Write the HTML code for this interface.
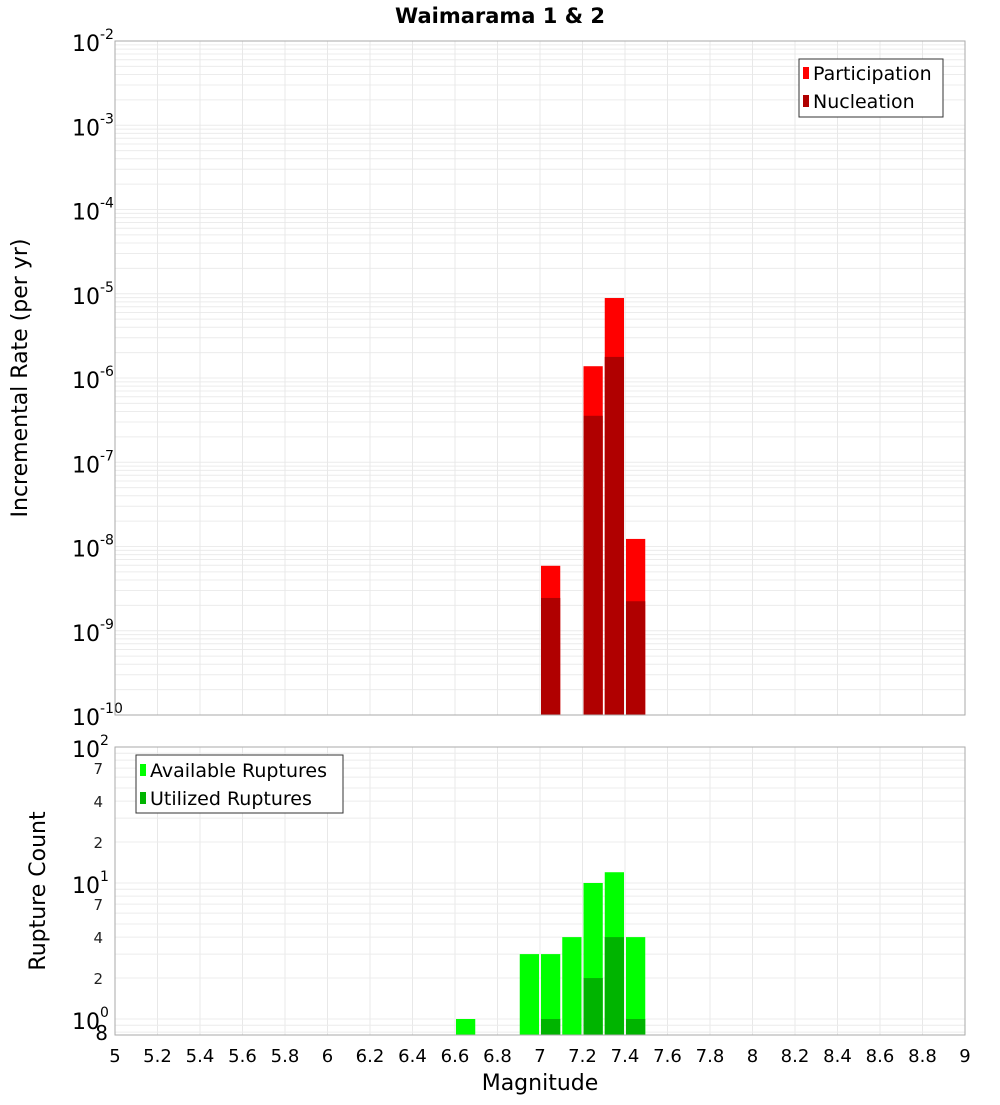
<!DOCTYPE html>
<html><head><meta charset="utf-8"><style>
body{margin:0;background:#fff;font-family:"Liberation Sans","DejaVu Sans",sans-serif}
svg text{font-family:"DejaVu Sans","Liberation Sans",sans-serif}
</style></head><body>
<svg id="c" width="1000" height="1100" xmlns="http://www.w3.org/2000/svg">
<text x="500" y="23" text-anchor="middle" font-size="21" font-weight="bold">Waimarama 1 &amp; 2</text>
<g id="topG"></g><g id="botG"></g>
<text x="540" y="1090" text-anchor="middle" font-size="22">Magnitude</text>
<text transform="translate(27,378) rotate(-90)" text-anchor="middle" font-size="22">Incremental Rate (per yr)</text>
<text transform="translate(45,891) rotate(-90)" text-anchor="middle" font-size="22">Rupture Count</text>
</svg>
<script>
const mags=[7.05,7.25,7.35,7.45];
const participation=[5.9e-9,1.38e-6,8.9e-6,1.23e-8];
const nucleation=[2.45e-9,3.56e-7,1.78e-6,2.24e-9];
const countMags=[6.65,6.95,7.05,7.15,7.25,7.35,7.45];
const available=[1,3,3,4,10,12,4];
const utilized=[0,0,1,0,2,4,1];
const xTicks=[5,5.2,5.4,5.6,5.8,6,6.2,6.4,6.6,6.8,7,7.2,7.4,7.6,7.8,8,8.2,8.4,8.6,8.8,9];
const topExps=[-2,-3,-4,-5,-6,-7,-8,-9,-10];
const botMinor=[2,4,7];

const NS="http://www.w3.org/2000/svg";
const X0=115,X1=965;
const x=m=>X0+(m-5)/4*(X1-X0);
const TT=41,TB=715;
const yT=v=>TT+(-2-Math.log10(v))/8*(TB-TT);
const BT=747,BB=1035,DEC=136;
const yB=v=>BT+(2-Math.log10(v))*DEC;
function el(p,t,a){const e=document.createElementNS(NS,t);for(const k in a)e.setAttribute(k,a[k]);p.appendChild(e);return e;}
const topG=document.getElementById('topG'),botG=document.getElementById('botG');
for(let d=-10;d<-2;d++)for(let k=1;k<10;k++){const y=yT(k*Math.pow(10,d));const l=el(topG,'line',{x1:X0,x2:X1,y1:y,y2:y,stroke:'#ececec','stroke-width':1});

}
for(const t of xTicks){const l=el(topG,'line',{x1:x(t),x2:x(t),y1:TT,y2:TB,stroke:'#e8e8e8'});


const l2=el(botG,'line',{x1:x(t),x2:x(t),y1:BT,y2:BB,stroke:'#e8e8e8'});


const tx=el(botG,'text',{x:x(t),y:1062,'text-anchor':'middle','font-size':18});tx.textContent=String(t);

}
for(const e of topExps){const y=yT(Math.pow(10,e));const t=el(topG,'text',{x:72,y:y+10,'font-size':22});


t.textContent='10';const s=el(t,'tspan',{dy:-12,'font-size':14});s.textContent=String(e);}
mags.forEach((m,i)=>{const xl=x(m-0.05)+1,w=x(m+0.05)-x(m-0.05)-2;
const p=el(topG,'rect',{x:xl,y:yT(participation[i]),width:w,height:TB-yT(participation[i]),fill:'#ff0000'});


const n=el(topG,'rect',{x:xl,y:yT(nucleation[i]),width:w,height:TB-yT(nucleation[i]),fill:'#b00000'});

});
const tf=el(topG,'rect',{x:X0,y:TT,width:X1-X0,height:TB-TT,fill:'none',stroke:'#aaa'});


for(let d=-1;d<2;d++)for(let k=1;k<10;k++){const v=k*Math.pow(10,d);const y=yB(v);if(y>BB||y<BT)continue;
const l=el(botG,'line',{x1:X0,x2:X1,y1:y,y2:y,stroke:'#ececec'});

}
[2,1,0].forEach(e=>{const y=yB(Math.pow(10,e));const t=el(botG,'text',{x:72,y:y+10,'font-size':22});


t.textContent='10';const s=el(t,'tspan',{dy:-12,'font-size':14});s.textContent=String(e);});
[1,10].forEach(b=>botMinor.forEach(k=>{const t=el(botG,'text',{x:103,y:yB(k*b)+6,'text-anchor':'end','font-size':15,fill:'#222'});t.textContent=String(k);

}));
const t8=el(botG,'text',{x:108,y:yB(0.8)+8,'text-anchor':'end','font-size':20});t8.textContent='8';


countMags.forEach((m,i)=>{const xl=x(m-0.05)+1,w=x(m+0.05)-x(m-0.05)-2;
if(available[i]>0){const a=el(botG,'rect',{x:xl,y:yB(available[i]),width:w,height:BB-yB(available[i]),fill:'#00ff00'});

}
if(utilized[i]>0){const u=el(botG,'rect',{x:xl,y:yB(utilized[i]),width:w,height:BB-yB(utilized[i]),fill:'#00b400'});

}});
const bf=el(botG,'rect',{x:X0,y:BT,width:X1-X0,height:BB-BT,fill:'none',stroke:'#aaa'});


</script>
<svg style="position:absolute;left:0;top:0" width="1000" height="1100" xmlns="http://www.w3.org/2000/svg">
<g>
<rect x="799" y="59" width="144" height="58" fill="#fff" stroke="#333"/>
<rect x="803" y="67" width="6" height="12" fill="#ff0000"/>
<text x="813" y="80" font-size="19">Participation</text>
<rect x="803" y="95" width="6" height="12" fill="#b00000"/>
<text x="813" y="108" font-size="19">Nucleation</text>
</g>
<g>
<rect x="136" y="755" width="207" height="58" fill="#fff" stroke="#333"/>
<rect x="140" y="764" width="6" height="12" fill="#00ff00"/>
<text x="150" y="777" font-size="19">Available Ruptures</text>
<rect x="140" y="792" width="6" height="12" fill="#00b400"/>
<text x="150" y="805" font-size="19">Utilized Ruptures</text>
</g>
</svg>
</body></html>
